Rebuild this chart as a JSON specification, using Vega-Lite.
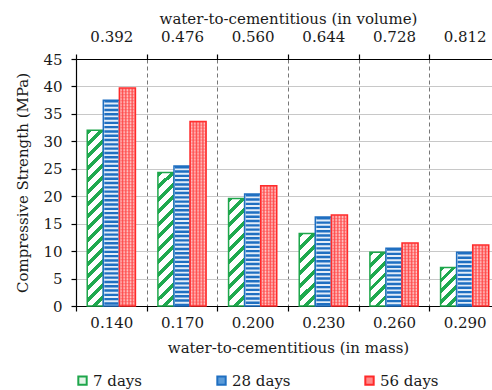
{
  "$schema": "https://vega.github.io/schema/vega-lite/v6.json",
  "width": 424,
  "height": 247,
  "autosize": "none",
  "padding": {"left": 76, "top": 59, "right": -8, "bottom": 84},
  "background": "#ffffff",
  "config": {
    "font": "DejaVu Serif",
    "view": {"stroke": null},
    "axis": {"labelFont": "DejaVu Serif", "titleFont": "DejaVu Serif", "labelFontSize": 15, "titleFontSize": 15, "titleFontWeight": "normal", "labelOverlap": false,
      "labelColor": "#1a1a1a", "titleColor": "#1a1a1a", "domainColor": "#000000", "tickColor": "#000000", "tickSize": 5, "domainWidth": 1.2, "tickWidth": 1.2},
    "axisY": {"values": [0, 5, 10, 15, 20, 25, 30, 35, 40, 45], "gridColor": "#c8c8c8", "labelPadding": 9, "titlePadding": 12},
    "legend": {"labelFont": "DejaVu Serif", "labelFontSize": 15, "labelColor": "#1a1a1a"}
  },
  "data": {
    "values": [
      {"mass": "0.140", "volume": "0.392", "age": "7 days", "strength": 32.0},
      {"mass": "0.140", "volume": "0.392", "age": "28 days", "strength": 37.5},
      {"mass": "0.140", "volume": "0.392", "age": "56 days", "strength": 39.7},
      {"mass": "0.170", "volume": "0.476", "age": "7 days", "strength": 24.3},
      {"mass": "0.170", "volume": "0.476", "age": "28 days", "strength": 25.5},
      {"mass": "0.170", "volume": "0.476", "age": "56 days", "strength": 33.6},
      {"mass": "0.200", "volume": "0.560", "age": "7 days", "strength": 19.6},
      {"mass": "0.200", "volume": "0.560", "age": "28 days", "strength": 20.4},
      {"mass": "0.200", "volume": "0.560", "age": "56 days", "strength": 21.9},
      {"mass": "0.230", "volume": "0.644", "age": "7 days", "strength": 13.2},
      {"mass": "0.230", "volume": "0.644", "age": "28 days", "strength": 16.2},
      {"mass": "0.230", "volume": "0.644", "age": "56 days", "strength": 16.6},
      {"mass": "0.260", "volume": "0.728", "age": "7 days", "strength": 9.8},
      {"mass": "0.260", "volume": "0.728", "age": "28 days", "strength": 10.5},
      {"mass": "0.260", "volume": "0.728", "age": "56 days", "strength": 11.5},
      {"mass": "0.290", "volume": "0.812", "age": "7 days", "strength": 7.0},
      {"mass": "0.290", "volume": "0.812", "age": "28 days", "strength": 9.8},
      {"mass": "0.290", "volume": "0.812", "age": "56 days", "strength": 11.1}
    ]
  },
  "resolve": {"scale": {"x": "independent"}},
  "layer": [
    {
      "mark": {"type": "rule", "opacity": 0},
      "encoding": {
        "x": {
          "field": "volume", "type": "nominal",
          "scale": {"type": "band", "paddingInner": 0, "paddingOuter": 0},
          "axis": {"orient": "top", "title": "water-to-cementitious (in volume)", "labelAngle": 0, "tickBand": "extent", "grid": false, "labelPadding": 10, "titlePadding": 3}
        }
      }
    },
    {
      "layer": [
        {
          "mark": {"type": "bar", "strokeWidth": 1.5},
          "encoding": {
            "x": {
              "field": "mass", "type": "nominal", "title": "water-to-cementitious (in mass)",
              "scale": {"paddingInner": 0, "paddingOuter": 0},
              "axis": {"labelAngle": 0, "tickBand": "extent", "grid": true, "gridDash": [4, 3], "gridColor": "#777777", "gridWidth": 1, "labelPadding": 4, "titlePadding": 10}
            },
            "xOffset": {
              "field": "age", "type": "nominal",
              "scale": {"domain": ["7 days", "28 days", "56 days"], "paddingInner": 0, "paddingOuter": 0.7}
            },
            "y": {
              "field": "strength", "type": "quantitative", "title": "Compressive Strength (MPa)",
              "scale": {"domain": [0, 45], "nice": false},
              "axis": {"values": [0, 5, 10, 15, 20, 25, 30, 35, 40, 45], "grid": true}
            },
            "stroke": {
              "field": "age", "type": "nominal",
              "scale": {"domain": ["7 days", "28 days", "56 days"], "range": ["#1ea64b", "#1f6fc1", "#ff2a2a"]},
              "legend": {"title": null, "orient": "none", "legendX": -1, "legendY": 314, "direction": "horizontal", "symbolType": "square", "symbolSize": 70, "symbolStrokeWidth": 2, "columnPadding": 70, "labelOffset": 3, "padding": 0}
            },
            "fill": {
              "field": "age", "type": "nominal",
              "scale": {"domain": ["7 days", "28 days", "56 days"], "range": ["#e3f5e8", "#5b9bd8", "#ff8a8a"]},
              "legend": {"title": null, "orient": "none", "legendX": -1, "legendY": 314, "direction": "horizontal", "symbolType": "square", "symbolSize": 70, "symbolStrokeWidth": 2, "columnPadding": 70, "labelOffset": 3, "padding": 0},
              "condition": [
                {"test": "datum.age === '7 days' && datum.mass === '0.140'", "value": {"gradient": "linear", "x1": 0, "y1": 0, "x2": 0.0986, "y2": 1.0822, "stops": [
                  {"offset": 0, "color": "#1fa94f"}, {"offset": 0.025, "color": "#1fa94f"}, {"offset": 0.025, "color": "#ffffff"}, {"offset": 0.0625, "color": "#ffffff"},
                  {"offset": 0.0625, "color": "#1fa94f"}, {"offset": 0.0875, "color": "#1fa94f"}, {"offset": 0.0875, "color": "#ffffff"}, {"offset": 0.125, "color": "#ffffff"},
                  {"offset": 0.125, "color": "#1fa94f"}, {"offset": 0.15, "color": "#1fa94f"}, {"offset": 0.15, "color": "#ffffff"}, {"offset": 0.1875, "color": "#ffffff"},
                  {"offset": 0.1875, "color": "#1fa94f"}, {"offset": 0.2125, "color": "#1fa94f"}, {"offset": 0.2125, "color": "#ffffff"}, {"offset": 0.25, "color": "#ffffff"},
                  {"offset": 0.25, "color": "#1fa94f"}, {"offset": 0.275, "color": "#1fa94f"}, {"offset": 0.275, "color": "#ffffff"}, {"offset": 0.3125, "color": "#ffffff"},
                  {"offset": 0.3125, "color": "#1fa94f"}, {"offset": 0.3375, "color": "#1fa94f"}, {"offset": 0.3375, "color": "#ffffff"}, {"offset": 0.375, "color": "#ffffff"},
                  {"offset": 0.375, "color": "#1fa94f"}, {"offset": 0.4, "color": "#1fa94f"}, {"offset": 0.4, "color": "#ffffff"}, {"offset": 0.4375, "color": "#ffffff"},
                  {"offset": 0.4375, "color": "#1fa94f"}, {"offset": 0.4625, "color": "#1fa94f"}, {"offset": 0.4625, "color": "#ffffff"}, {"offset": 0.5, "color": "#ffffff"},
                  {"offset": 0.5, "color": "#1fa94f"}, {"offset": 0.525, "color": "#1fa94f"}, {"offset": 0.525, "color": "#ffffff"}, {"offset": 0.5625, "color": "#ffffff"},
                  {"offset": 0.5625, "color": "#1fa94f"}, {"offset": 0.5875, "color": "#1fa94f"}, {"offset": 0.5875, "color": "#ffffff"}, {"offset": 0.625, "color": "#ffffff"},
                  {"offset": 0.625, "color": "#1fa94f"}, {"offset": 0.65, "color": "#1fa94f"}, {"offset": 0.65, "color": "#ffffff"}, {"offset": 0.6875, "color": "#ffffff"},
                  {"offset": 0.6875, "color": "#1fa94f"}, {"offset": 0.7125, "color": "#1fa94f"}, {"offset": 0.7125, "color": "#ffffff"}, {"offset": 0.75, "color": "#ffffff"},
                  {"offset": 0.75, "color": "#1fa94f"}, {"offset": 0.775, "color": "#1fa94f"}, {"offset": 0.775, "color": "#ffffff"}, {"offset": 0.8125, "color": "#ffffff"},
                  {"offset": 0.8125, "color": "#1fa94f"}, {"offset": 0.8375, "color": "#1fa94f"}, {"offset": 0.8375, "color": "#ffffff"}, {"offset": 0.875, "color": "#ffffff"},
                  {"offset": 0.875, "color": "#1fa94f"}, {"offset": 0.9, "color": "#1fa94f"}, {"offset": 0.9, "color": "#ffffff"}, {"offset": 0.9375, "color": "#ffffff"},
                  {"offset": 0.9375, "color": "#1fa94f"}, {"offset": 0.9625, "color": "#1fa94f"}, {"offset": 0.9625, "color": "#ffffff"}, {"offset": 1, "color": "#ffffff"}
                ]}},
                {"test": "datum.age === '7 days' && datum.mass === '0.170'", "value": {"gradient": "linear", "x1": 0, "y1": 0, "x2": 0.1324, "y2": 1.104, "stops": [
                  {"offset": 0, "color": "#1fa94f"}, {"offset": 0.0333, "color": "#1fa94f"}, {"offset": 0.0333, "color": "#ffffff"}, {"offset": 0.0833, "color": "#ffffff"},
                  {"offset": 0.0833, "color": "#1fa94f"}, {"offset": 0.1167, "color": "#1fa94f"}, {"offset": 0.1167, "color": "#ffffff"}, {"offset": 0.1667, "color": "#ffffff"},
                  {"offset": 0.1667, "color": "#1fa94f"}, {"offset": 0.2, "color": "#1fa94f"}, {"offset": 0.2, "color": "#ffffff"}, {"offset": 0.25, "color": "#ffffff"},
                  {"offset": 0.25, "color": "#1fa94f"}, {"offset": 0.2833, "color": "#1fa94f"}, {"offset": 0.2833, "color": "#ffffff"}, {"offset": 0.3333, "color": "#ffffff"},
                  {"offset": 0.3333, "color": "#1fa94f"}, {"offset": 0.3667, "color": "#1fa94f"}, {"offset": 0.3667, "color": "#ffffff"}, {"offset": 0.4167, "color": "#ffffff"},
                  {"offset": 0.4167, "color": "#1fa94f"}, {"offset": 0.45, "color": "#1fa94f"}, {"offset": 0.45, "color": "#ffffff"}, {"offset": 0.5, "color": "#ffffff"},
                  {"offset": 0.5, "color": "#1fa94f"}, {"offset": 0.5333, "color": "#1fa94f"}, {"offset": 0.5333, "color": "#ffffff"}, {"offset": 0.5833, "color": "#ffffff"},
                  {"offset": 0.5833, "color": "#1fa94f"}, {"offset": 0.6167, "color": "#1fa94f"}, {"offset": 0.6167, "color": "#ffffff"}, {"offset": 0.6667, "color": "#ffffff"},
                  {"offset": 0.6667, "color": "#1fa94f"}, {"offset": 0.7, "color": "#1fa94f"}, {"offset": 0.7, "color": "#ffffff"}, {"offset": 0.75, "color": "#ffffff"},
                  {"offset": 0.75, "color": "#1fa94f"}, {"offset": 0.7833, "color": "#1fa94f"}, {"offset": 0.7833, "color": "#ffffff"}, {"offset": 0.8333, "color": "#ffffff"},
                  {"offset": 0.8333, "color": "#1fa94f"}, {"offset": 0.8667, "color": "#1fa94f"}, {"offset": 0.8667, "color": "#ffffff"}, {"offset": 0.9167, "color": "#ffffff"},
                  {"offset": 0.9167, "color": "#1fa94f"}, {"offset": 0.95, "color": "#1fa94f"}, {"offset": 0.95, "color": "#ffffff"}, {"offset": 1, "color": "#ffffff"}
                ]}},
                {"test": "datum.age === '7 days' && datum.mass === '0.200'", "value": {"gradient": "linear", "x1": 0, "y1": 0, "x2": 0.1671, "y2": 1.1238, "stops": [
                  {"offset": 0, "color": "#1fa94f"}, {"offset": 0.04, "color": "#1fa94f"}, {"offset": 0.04, "color": "#ffffff"}, {"offset": 0.1, "color": "#ffffff"},
                  {"offset": 0.1, "color": "#1fa94f"}, {"offset": 0.14, "color": "#1fa94f"}, {"offset": 0.14, "color": "#ffffff"}, {"offset": 0.2, "color": "#ffffff"},
                  {"offset": 0.2, "color": "#1fa94f"}, {"offset": 0.24, "color": "#1fa94f"}, {"offset": 0.24, "color": "#ffffff"}, {"offset": 0.3, "color": "#ffffff"},
                  {"offset": 0.3, "color": "#1fa94f"}, {"offset": 0.34, "color": "#1fa94f"}, {"offset": 0.34, "color": "#ffffff"}, {"offset": 0.4, "color": "#ffffff"},
                  {"offset": 0.4, "color": "#1fa94f"}, {"offset": 0.44, "color": "#1fa94f"}, {"offset": 0.44, "color": "#ffffff"}, {"offset": 0.5, "color": "#ffffff"},
                  {"offset": 0.5, "color": "#1fa94f"}, {"offset": 0.54, "color": "#1fa94f"}, {"offset": 0.54, "color": "#ffffff"}, {"offset": 0.6, "color": "#ffffff"},
                  {"offset": 0.6, "color": "#1fa94f"}, {"offset": 0.64, "color": "#1fa94f"}, {"offset": 0.64, "color": "#ffffff"}, {"offset": 0.7, "color": "#ffffff"},
                  {"offset": 0.7, "color": "#1fa94f"}, {"offset": 0.74, "color": "#1fa94f"}, {"offset": 0.74, "color": "#ffffff"}, {"offset": 0.8, "color": "#ffffff"},
                  {"offset": 0.8, "color": "#1fa94f"}, {"offset": 0.84, "color": "#1fa94f"}, {"offset": 0.84, "color": "#ffffff"}, {"offset": 0.9, "color": "#ffffff"},
                  {"offset": 0.9, "color": "#1fa94f"}, {"offset": 0.94, "color": "#1fa94f"}, {"offset": 0.94, "color": "#ffffff"}, {"offset": 1, "color": "#ffffff"}
                ]}},
                {"test": "datum.age === '7 days' && datum.mass === '0.230'", "value": {"gradient": "linear", "x1": 0, "y1": 0, "x2": 0.2569, "y2": 1.164, "stops": [
                  {"offset": 0, "color": "#1fa94f"}, {"offset": 0.0571, "color": "#1fa94f"}, {"offset": 0.0571, "color": "#ffffff"}, {"offset": 0.1429, "color": "#ffffff"},
                  {"offset": 0.1429, "color": "#1fa94f"}, {"offset": 0.2, "color": "#1fa94f"}, {"offset": 0.2, "color": "#ffffff"}, {"offset": 0.2857, "color": "#ffffff"},
                  {"offset": 0.2857, "color": "#1fa94f"}, {"offset": 0.3429, "color": "#1fa94f"}, {"offset": 0.3429, "color": "#ffffff"}, {"offset": 0.4286, "color": "#ffffff"},
                  {"offset": 0.4286, "color": "#1fa94f"}, {"offset": 0.4857, "color": "#1fa94f"}, {"offset": 0.4857, "color": "#ffffff"}, {"offset": 0.5714, "color": "#ffffff"},
                  {"offset": 0.5714, "color": "#1fa94f"}, {"offset": 0.6286, "color": "#1fa94f"}, {"offset": 0.6286, "color": "#ffffff"}, {"offset": 0.7143, "color": "#ffffff"},
                  {"offset": 0.7143, "color": "#1fa94f"}, {"offset": 0.7714, "color": "#1fa94f"}, {"offset": 0.7714, "color": "#ffffff"}, {"offset": 0.8571, "color": "#ffffff"},
                  {"offset": 0.8571, "color": "#1fa94f"}, {"offset": 0.9143, "color": "#1fa94f"}, {"offset": 0.9143, "color": "#ffffff"}, {"offset": 1, "color": "#ffffff"}
                ]}},
                {"test": "datum.age === '7 days' && datum.mass === '0.260'", "value": {"gradient": "linear", "x1": 0, "y1": 0, "x2": 0.3545, "y2": 1.1921, "stops": [
                  {"offset": 0, "color": "#1fa94f"}, {"offset": 0.0667, "color": "#1fa94f"}, {"offset": 0.0667, "color": "#ffffff"}, {"offset": 0.1667, "color": "#ffffff"},
                  {"offset": 0.1667, "color": "#1fa94f"}, {"offset": 0.2333, "color": "#1fa94f"}, {"offset": 0.2333, "color": "#ffffff"}, {"offset": 0.3333, "color": "#ffffff"},
                  {"offset": 0.3333, "color": "#1fa94f"}, {"offset": 0.4, "color": "#1fa94f"}, {"offset": 0.4, "color": "#ffffff"}, {"offset": 0.5, "color": "#ffffff"},
                  {"offset": 0.5, "color": "#1fa94f"}, {"offset": 0.5667, "color": "#1fa94f"}, {"offset": 0.5667, "color": "#ffffff"}, {"offset": 0.6667, "color": "#ffffff"},
                  {"offset": 0.6667, "color": "#1fa94f"}, {"offset": 0.7333, "color": "#1fa94f"}, {"offset": 0.7333, "color": "#ffffff"}, {"offset": 0.8333, "color": "#ffffff"},
                  {"offset": 0.8333, "color": "#1fa94f"}, {"offset": 0.9, "color": "#1fa94f"}, {"offset": 0.9, "color": "#ffffff"}, {"offset": 1, "color": "#ffffff"}
                ]}},
                {"test": "datum.age === '7 days' && datum.mass === '0.290'", "value": {"gradient": "linear", "x1": 0, "y1": 0, "x2": 0.5028, "y2": 1.2068, "stops": [
                  {"offset": 0, "color": "#1fa94f"}, {"offset": 0.08, "color": "#1fa94f"}, {"offset": 0.08, "color": "#ffffff"}, {"offset": 0.2, "color": "#ffffff"},
                  {"offset": 0.2, "color": "#1fa94f"}, {"offset": 0.28, "color": "#1fa94f"}, {"offset": 0.28, "color": "#ffffff"}, {"offset": 0.4, "color": "#ffffff"},
                  {"offset": 0.4, "color": "#1fa94f"}, {"offset": 0.48, "color": "#1fa94f"}, {"offset": 0.48, "color": "#ffffff"}, {"offset": 0.6, "color": "#ffffff"},
                  {"offset": 0.6, "color": "#1fa94f"}, {"offset": 0.68, "color": "#1fa94f"}, {"offset": 0.68, "color": "#ffffff"}, {"offset": 0.8, "color": "#ffffff"},
                  {"offset": 0.8, "color": "#1fa94f"}, {"offset": 0.88, "color": "#1fa94f"}, {"offset": 0.88, "color": "#ffffff"}, {"offset": 1, "color": "#ffffff"}
                ]}},
                {"test": "datum.age === '28 days'", "value": "#e3edf8"},
                {"test": "datum.age === '56 days'", "value": {"gradient": "linear", "x1": 0, "y1": 0, "x2": 1, "y2": 0, "stops": [
                  {"offset": 0, "color": "#ff5050"}, {"offset": 0.1, "color": "#ffc6c6"}, {"offset": 0.2, "color": "#ff5050"}, {"offset": 0.3, "color": "#ffc6c6"},
                  {"offset": 0.4, "color": "#ff5050"}, {"offset": 0.5, "color": "#ffc6c6"}, {"offset": 0.6, "color": "#ff5050"}, {"offset": 0.7, "color": "#ffc6c6"},
                  {"offset": 0.8, "color": "#ff5050"}, {"offset": 0.9, "color": "#ffc6c6"}, {"offset": 1, "color": "#ff5050"}
                ]}}
              ]
            }
          }
        },
        {
          "transform": [{"filter": "datum.age === '28 days'"}],
          "mark": {"type": "rule", "strokeWidth": 14, "strokeDash": [2.4, 1.9], "color": "#1f6fc1"},
          "encoding": {
            "x": {"field": "mass", "type": "nominal", "title": "water-to-cementitious (in mass)"},
            "xOffset": {"field": "age", "type": "nominal"},
            "y": {"field": "strength", "type": "quantitative", "title": "Compressive Strength (MPa)", "axis": {"values": [0, 5, 10, 15, 20, 25, 30, 35, 40, 45], "grid": true}},
            "y2": {"datum": 0}
          }
        },
        {
          "transform": [{"filter": "datum.age === '56 days'"}],
          "mark": {"type": "rule", "strokeWidth": 14, "strokeDash": [1.2, 1.8], "color": "#ff4848", "opacity": 0.45},
          "encoding": {
            "x": {"field": "mass", "type": "nominal", "title": "water-to-cementitious (in mass)"},
            "xOffset": {"field": "age", "type": "nominal"},
            "y": {"field": "strength", "type": "quantitative", "title": "Compressive Strength (MPa)", "axis": {"values": [0, 5, 10, 15, 20, 25, 30, 35, 40, 45], "grid": true}},
            "y2": {"datum": 0}
          }
        }
      ]
    }
  ]
}
